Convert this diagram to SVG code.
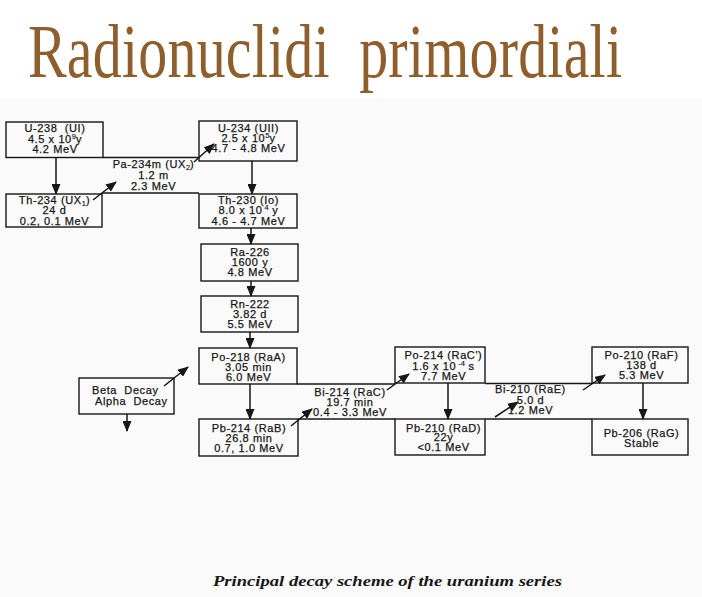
<svg xmlns="http://www.w3.org/2000/svg" width="702" height="597" viewBox="0 0 702 597">
<style>
.bx{fill:none;stroke:#161616;stroke-width:1.4}
.ln{fill:none;stroke:#161616;stroke-width:1.3}
.ar{fill:none;stroke:#161616;stroke-width:1.5}
text{font-family:"Liberation Sans",Arial,sans-serif;font-size:11px;letter-spacing:0.6px;fill:#161616;stroke:#161616;stroke-width:0.25;text-anchor:middle}
.lg{text-anchor:start}
.sp{font-size:7.5px;stroke-width:0.15;letter-spacing:0}
.title{font-family:"Liberation Serif","Times New Roman",serif;font-size:58px;letter-spacing:0;fill:#8f5e2d;stroke:none;text-anchor:start}
.cap{font-family:"Liberation Serif","Times New Roman",serif;font-size:15px;letter-spacing:0;font-style:italic;font-weight:bold;stroke:none;text-anchor:start}
</style>
<defs>
<marker id="ah" markerUnits="userSpaceOnUse" markerWidth="11" markerHeight="9" refX="10" refY="4.5" orient="auto">
<path d="M0,0 L11,4.5 L0,9 z" fill="#161616"/>
</marker>
</defs>
<rect x="0" y="0" width="702" height="597" fill="#ffffff"/>
<rect x="0" y="98" width="702" height="499" fill="#fafafa"/>
<text class="title" transform="translate(28,77) scale(1,1.3)" x="0" y="0" textLength="594" lengthAdjust="spacing" xml:space="preserve">Radionuclidi  primordiali</text>

<g id="bands">
<line class="ln" x1="103" y1="157.5" x2="199" y2="157.5"/>
<line class="ln" x1="102" y1="193" x2="199" y2="193"/>
<line class="ln" x1="297" y1="384" x2="395" y2="384"/>
<line class="ln" x1="298" y1="419" x2="395" y2="419"/>
<line class="ln" x1="485" y1="383.5" x2="592" y2="383.5"/>
<line class="ln" x1="485" y1="419" x2="592" y2="419"/>
</g>

<g id="U238"><rect class="bx" x="6" y="122" width="97" height="35.5"/>
<text x="55" y="132" xml:space="preserve">U-238  (UI)</text>
<text x="55" y="142.5">4.5 x 10<tspan class="sp" dy="-4">9</tspan><tspan dy="4">y</tspan></text>
<text x="55" y="153">4.2 MeV</text></g>

<g id="Th234"><rect class="bx" x="6" y="194" width="96" height="33"/>
<text x="54.5" y="204">Th-234 (UX<tspan class="sp" dy="2">1</tspan><tspan dy="-2">)</tspan></text>
<text x="54.5" y="214">24 d</text>
<text x="54.5" y="224.5">0.2, 0.1 MeV</text></g>

<g id="Pa234m">
<text x="153.5" y="168">Pa-234m (UX<tspan class="sp" dy="2">2</tspan><tspan dy="-2">)</tspan></text>
<text x="153.5" y="179">1.2 m</text>
<text x="153.5" y="190">2.3 MeV</text></g>

<g id="U234"><rect class="bx" x="199" y="121" width="98" height="40"/>
<text x="248.5" y="131.5">U-234 (UII)</text>
<text x="248.5" y="141.5">2.5 x 10<tspan class="sp" dy="-4">5</tspan><tspan dy="4">y</tspan></text>
<text x="248.5" y="152">4.7 - 4.8 MeV</text></g>

<g id="Th230"><rect class="bx" x="199" y="194" width="98" height="34"/>
<text x="248.5" y="204">Th-230 (Io)</text>
<text x="248.5" y="214">8.0 x 10<tspan class="sp" dy="-4"> 4</tspan><tspan dy="4"> y</tspan></text>
<text x="248.5" y="224.5">4.6 - 4.7 MeV</text></g>

<g id="Ra226"><rect class="bx" x="201" y="244" width="97" height="37"/>
<text x="250" y="256">Ra-226</text>
<text x="250" y="266">1600 y</text>
<text x="250" y="276">4.8 MeV</text></g>

<g id="Rn222"><rect class="bx" x="201" y="296" width="97" height="36"/>
<text x="250" y="307.5">Rn-222</text>
<text x="250" y="317.5">3.82 d</text>
<text x="250" y="327.5">5.5 MeV</text></g>

<g id="Po218"><rect class="bx" x="199" y="348" width="98" height="36"/>
<text x="248.5" y="360.5">Po-218 (RaA)</text>
<text x="248.5" y="370.5">3.05 min</text>
<text x="248.5" y="380.5">6.0 MeV</text></g>

<g id="Pb214"><rect class="bx" x="199" y="419" width="99" height="37"/>
<text x="249" y="431.5">Pb-214 (RaB)</text>
<text x="249" y="441.5">26.8 min</text>
<text x="249" y="452">0.7, 1.0 MeV</text></g>

<g id="Bi214">
<text x="350" y="395.5">Bi-214 (RaC)</text>
<text x="350" y="405.5">19.7 min</text>
<text x="350" y="415.5">0.4 - 3.3 MeV</text></g>

<g id="Po214"><rect class="bx" x="395" y="347" width="90" height="36"/>
<text x="443.5" y="359">Po-214 (RaC')</text>
<text x="443.5" y="369.5">1.6 x 10<tspan class="sp" dy="-4"> -4</tspan><tspan dy="4"> s</tspan></text>
<text x="443.5" y="379.5">7.7 MeV</text></g>

<g id="Pb210"><rect class="bx" x="395" y="419" width="90" height="36"/>
<text x="443.5" y="431.5">Pb-210 (RaD)</text>
<text x="443.5" y="441">22y</text>
<text x="443.5" y="451">&lt;0.1 MeV</text></g>

<g id="Bi210">
<text x="530.5" y="393">Bi-210 (RaE)</text>
<text x="530.5" y="403.5">5.0 d</text>
<text x="530.5" y="413.5">1.2 MeV</text></g>

<g id="Po210"><rect class="bx" x="592" y="347" width="96" height="36"/>
<text x="641.5" y="359">Po-210 (RaF)</text>
<text x="641.5" y="369">138 d</text>
<text x="641.5" y="379">5.3 MeV</text></g>

<g id="Pb206"><rect class="bx" x="592" y="419" width="96" height="36"/>
<text x="641.5" y="436.5">Pb-206 (RaG)</text>
<text x="641.5" y="446.5">Stable</text></g>

<g id="legend"><rect class="bx" x="79" y="378" width="95" height="36"/>
<text class="lg" x="92" y="394" xml:space="preserve">Beta  Decay</text>
<text class="lg" x="95" y="405" xml:space="preserve">Alpha  Decay</text></g>

<g id="connectors">
<line class="ar" x1="56" y1="157.5" x2="56" y2="194" marker-end="url(#ah)"/>
<line class="ar" x1="252" y1="161" x2="252" y2="194" marker-end="url(#ah)"/>
<line class="ar" x1="251" y1="228" x2="251" y2="244" marker-end="url(#ah)"/>
<line class="ar" x1="251" y1="281" x2="251" y2="296" marker-end="url(#ah)"/>
<line class="ar" x1="250" y1="332" x2="250" y2="348" marker-end="url(#ah)"/>
<line class="ar" x1="250" y1="384" x2="250" y2="419" marker-end="url(#ah)"/>
<line class="ar" x1="448" y1="383" x2="448" y2="419" marker-end="url(#ah)"/>
<line class="ar" x1="643" y1="383" x2="643" y2="419" marker-end="url(#ah)"/>
<line class="ar" x1="127" y1="414" x2="127" y2="431" marker-end="url(#ah)"/>
<line class="ar" x1="93" y1="200" x2="116" y2="182" marker-end="url(#ah)"/>
<line class="ar" x1="194" y1="162" x2="214" y2="144" marker-end="url(#ah)"/>
<line class="ar" x1="164" y1="386" x2="188" y2="367" marker-end="url(#ah)"/>
<line class="ar" x1="291" y1="426" x2="312" y2="409" marker-end="url(#ah)"/>
<line class="ar" x1="387" y1="390" x2="409" y2="374" marker-end="url(#ah)"/>
<line class="ar" x1="495" y1="417" x2="518" y2="402" marker-end="url(#ah)"/>
<line class="ar" x1="583" y1="390" x2="605" y2="375" marker-end="url(#ah)"/>
</g>

<text class="cap" x="213" y="586" textLength="349" lengthAdjust="spacingAndGlyphs">Principal decay scheme of the uranium series</text>
</svg>
